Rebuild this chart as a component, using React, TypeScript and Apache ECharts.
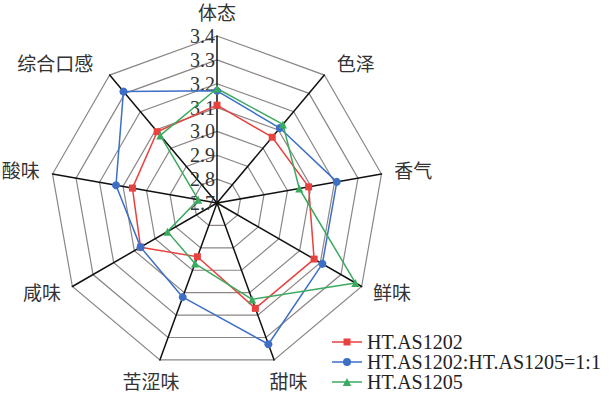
import React, { useEffect, useRef } from 'react';
import * as echarts from 'echarts';

// Categories in clockwise order starting from the top
const categories = ['体态', '色泽', '香气', '鲜味', '甜味', '苦涩味', '咸味', '酸味', '综合口感'];
const seriesNames = ['HT.AS1202', 'HT.AS1202:HT.AS1205=1:1', 'HT.AS1205'];
const valuesAS1202 = [3.11, 3.06, 3.09, 3.17, 3.17, 2.94, 3.07, 3.06, 3.09];
const valuesMix = [3.17, 3.11, 3.21, 3.21, 3.33, 3.12, 3.07, 3.13, 3.31];
const valuesAS1205 = [3.18, 3.13, 3.05, 3.37, 3.13, 2.97, 2.94, 2.78, 3.07];
const axisMin = 2.7;
const axisMax = 3.4;
const splitCount = 7;

const colors = ['#e8423f', '#3d6fc6', '#3aaa5f'];
const symbols = ['rect', 'circle', 'triangle'];
const symbolSizes = [7, 8, 8];
const legendIcons = [
  'path://M0 3.3L30 3.3L30 4.7L0 4.7Z M11.5 0.5L18.5 0.5L18.5 7.5L11.5 7.5Z',
  'path://M0 3.3L30 3.3L30 4.7L0 4.7Z M19 4A4 4 0 1 1 11 4A4 4 0 1 1 19 4Z',
  'path://M0 3.3L30 3.3L30 4.7L0 4.7Z M15 0L19.2 8L10.8 8Z',
];

const serifFont = "'Liberation Serif', 'Noto Sans CJK SC', serif";
const nameStyle = { color: '#333', fontSize: 19, fontFamily: serifFont };
const nameRichKey: Record<string, string> = { 苦涩味: 'b', 甜味: 'c', 综合口感: 'd', 色泽: 'e' };

export default function App() {
  const ref = useRef<HTMLDivElement>(null);
  useEffect(() => {
    if (!ref.current) return;
    const chart = echarts.init(ref.current, undefined, { renderer: 'svg' });
    // ECharts radar goes counter-clockwise; reorder so the picture runs clockwise
    const order = [0, ...categories.slice(1).map((_, i) => categories.length - 1 - i)];
    const indicator = order.map((idx, k) => ({
      name: categories[idx],
      min: axisMin,
      max: axisMax,
      ...(k === 0
        ? {
            axisLabel: {
              show: true,
              margin: 2,
              fontSize: 20,
              fontFamily: serifFont,
              color: '#333',
              formatter: (v: number) => Number(v).toFixed(1),
            },
          }
        : {}),
    }));
    const allValues = [valuesAS1202, valuesMix, valuesAS1205];
    chart.setOption({
      animation: false,
      backgroundColor: '#ffffff',
      legend: {
        orient: 'vertical',
        left: 332,
        top: 332,
        padding: 0,
        itemGap: 0,
        itemWidth: 30,
        itemHeight: 8,
        itemStyle: { borderWidth: 0 },
        textStyle: { fontSize: 20, fontFamily: serifFont, color: '#222', lineHeight: 19 },
        data: seriesNames.map((n, i) => ({ name: n, icon: legendIcons[i] })),
      },
      radar: {
        center: [217, 203],
        radius: 167,
        startAngle: 90,
        shape: 'polygon',
        splitNumber: splitCount,
        nameGap: 13,
        axisName: {
          ...nameStyle,
          formatter: (name: string) =>
            nameRichKey[name] ? '{' + nameRichKey[name] + '|' + name + '}' : name,
          rich: {
            b: { ...nameStyle, padding: [20, -24, 0, 0] },
            c: { ...nameStyle, padding: [20, 0, 0, -9] },
            d: { ...nameStyle, padding: [0, 8, 2, 0] },
            e: { ...nameStyle, padding: [0, 0, 2, 4] },
          },
        },
        axisLine: { lineStyle: { color: '#111', width: 1.5 } },
        splitLine: { lineStyle: { color: '#8c8585', width: 1.2 } },
        splitArea: { show: false },
        axisTick: { show: false },
        axisLabel: { show: false },
        indicator,
      },
      series: [
        {
          type: 'radar',
          data: allValues.map((vals, i) => ({
            name: seriesNames[i],
            value: order.map((idx) => vals[idx]),
            symbol: symbols[i],
            symbolSize: symbolSizes[i],
            itemStyle: { color: colors[i] },
            lineStyle: { color: colors[i], width: 1.5 },
          })),
        },
      ],
    });
    return () => chart.dispose();
  }, []);
  return (
    <div
      ref={ref}
      style={{ position: 'fixed', left: 0, top: 0, width: 613, height: 394, background: '#fff' }}
    />
  );
}
